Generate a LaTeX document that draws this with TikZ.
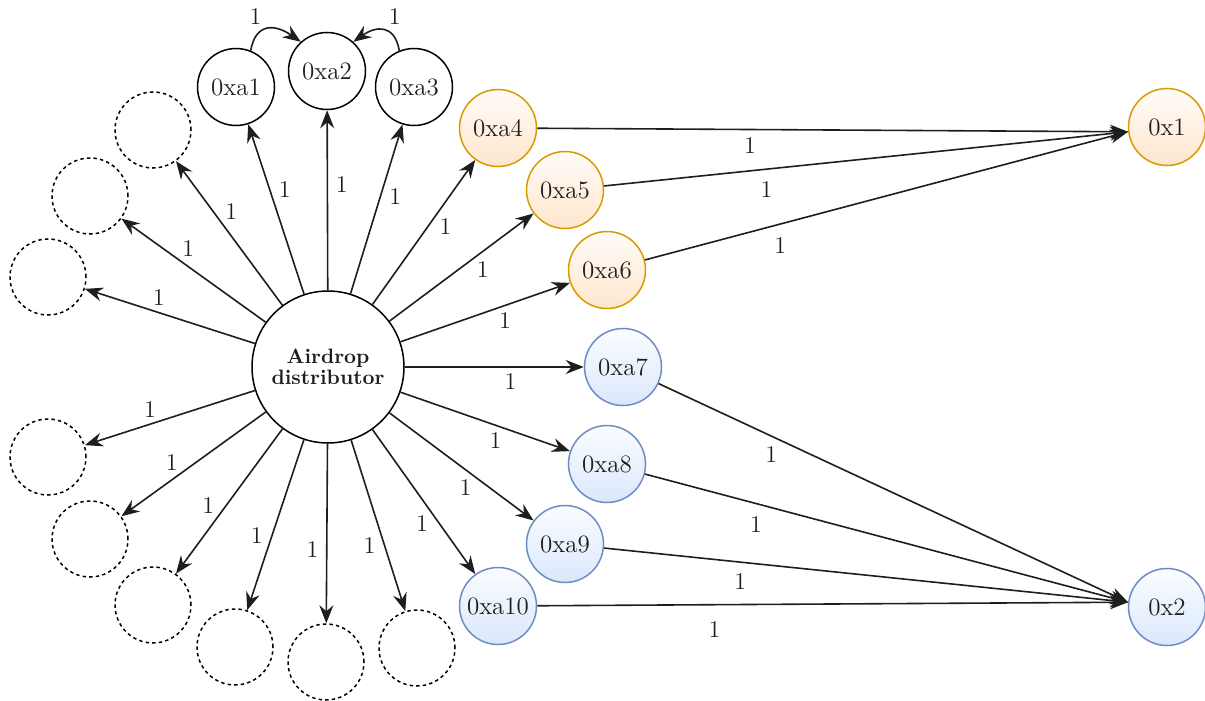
\documentclass[tikz,border=0pt]{standalone}
\usetikzlibrary{arrows.meta,calc}
\definecolor{ornline}{HTML}{D79B00}
\definecolor{ornfill}{HTML}{FFE6CC}
\definecolor{bluline}{HTML}{6C8EBF}
\definecolor{blufill}{HTML}{DAE8FC}
\definecolor{ink}{HTML}{1E1E1E}
\begin{document}
\begin{tikzpicture}[x=0.5pt,y=-0.5pt,
  every node/.style={text=ink},
  acct/.style={circle, draw=black, line width=0.75pt, minimum size=38.5pt,
    inner sep=0pt, font=\fontsize{12.5}{14}\selectfont},
  ghost/.style={circle, draw=black, line width=0.75pt,
    dash pattern=on 1.7pt off 1.6pt, minimum size=38pt, inner sep=0pt},
  gold/.style={acct, draw=ornline, top color=ornfill!12, bottom color=ornfill},
  sky/.style={acct, draw=bluline, top color=blufill!12, bottom color=blufill},
  arr/.style={-{Stealth[length=9pt,width=7pt,inset=3pt]}, line width=0.8pt, draw=ink},
  lbl/.style={font=\fontsize{12}{14}\selectfont, inner sep=1pt}
]
\useasboundingbox (0,0) rectangle (1205,701);

% central distributor
\node[acct, minimum size=76pt, align=center,
      font=\bfseries\fontsize{10.4}{10.8}\selectfont] (hub) at (328,367) {Airdrop\\distributor};

% recipient accounts
\node[acct] (a1) at (236,87) {0xa1};
\node[acct] (a2) at (327,71) {0xa2};
\node[acct] (a3) at (414,87) {0xa3};
\node[gold] (a4) at (498,128) {0xa4};
\node[gold] (a5) at (565,190) {0xa5};
\node[gold] (a6) at (607,270) {0xa6};
\node[sky]  (a7) at (623,367) {0xa7};
\node[sky]  (a8) at (607,464) {0xa8};
\node[sky]  (a9) at (565,544) {0xa9};
\node[sky]  (a10) at (498,606) {0xa10};

% collecting accounts
\node[gold] (x1) at (1167,127) {0x1};
\node[sky]  (x2) at (1167,607) {0x2};

% anonymous recipients
\node[ghost] (g1) at (153,130) {};
\node[ghost] (g2) at (90,196) {};
\node[ghost] (g3) at (48,277) {};
\node[ghost] (g4) at (48,457) {};
\node[ghost] (g5) at (90,539) {};
\node[ghost] (g6) at (153,605) {};
\node[ghost] (g7) at (235,647) {};
\node[ghost] (g8) at (326,662) {};
\node[ghost] (g9) at (417,648) {};

% airdrop transfers
\foreach \t in {a1,a2,a3,a4,a5,a6,a7,a8,a9,a10,g1,g2,g3,g4,g5,g6,g7,g8,g9} {
  \draw[arr] (hub) -- (\t);
  \node[lbl] (l-\t) at ($(hub)!91.5pt!-4.5:(\t)$) {1};
}

% transfers between recipients
\draw[arr] (a1.68) to[out=80,in=145,looseness=1.5] node[lbl, pos=0.2, above=5pt] (l-a1a2) {1} (a2.132);
\draw[arr] (a3.112) to[out=100,in=35,looseness=1.5] node[lbl, pos=0.2, above=5pt] (l-a3a2) {1} (a2.48);

% consolidation
\draw[arr] (a4) -- (x1.187) node[lbl, pos=0.36, below=2.5pt] (l-a4x1) {1};
\draw[arr] (a5) -- (x1.187) node[lbl, pos=0.31, below=4.8pt] (l-a5x1) {1};
\draw[arr] (a6) -- (x1.187) node[lbl, pos=0.28, below=5.3pt] (l-a6x1) {1};
\draw[arr] (a7) -- (x2.173) node[lbl, pos=0.24, below=3.8pt] (l-a7x2) {1};
\draw[arr] (a8) -- (x2.173) node[lbl, pos=0.23, below=5.3pt] (l-a8x2) {1};
\draw[arr] (a9) -- (x2.173) node[lbl, pos=0.26, below=4.3pt] (l-a9x2) {1};
\draw[arr] (a10) -- (x2.173) node[lbl, pos=0.30, below=6.8pt] (l-a10x2) {1};
\end{tikzpicture}
\end{document}
